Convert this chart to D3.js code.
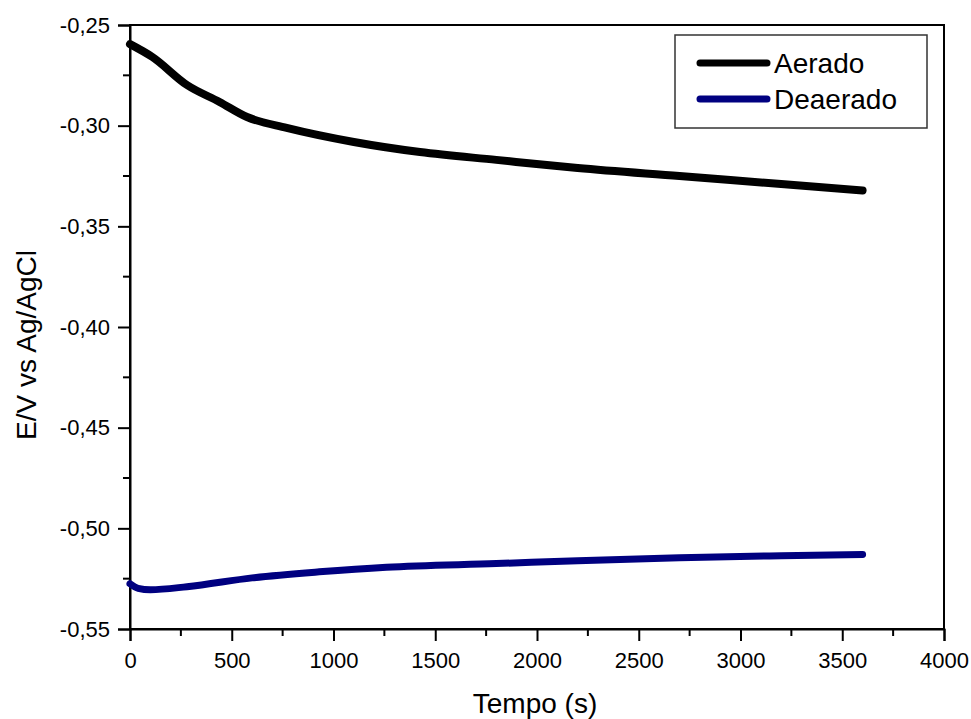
<!DOCTYPE html>
<html>
<head>
<meta charset="utf-8">
<script src="https://cdn.jsdelivr.net/npm/d3@7"></script>
<style>
  body { margin: 0; background: #fff; }
  text { font-family: Arial, "Liberation Sans", sans-serif; }
</style>
</head>
<body>
<script>
// data (time in s, potential in V)
const seriesNames = ["Aerado", "Deaerado"];
const seriesColors = ["#000000", "#000080"];

const aeradoT = [0, 110, 280, 440, 575, 770, 1100, 1425, 1800, 2200, 2700, 3200, 3600];
const aeradoE = [-0.2595, -0.2659, -0.2798, -0.2882, -0.2957, -0.3011, -0.3081, -0.3131, -0.3170, -0.3210, -0.3250, -0.3290, -0.3322];

const deaeradoT = [0, 40, 100, 280, 600, 930, 1260, 1800, 2200, 2700, 3200, 3600];
const deaeradoE = [-0.5275, -0.5298, -0.5305, -0.5290, -0.5246, -0.5216, -0.5193, -0.5175, -0.5161, -0.5146, -0.5136, -0.5130];

const xTicks = [0, 500, 1000, 1500, 2000, 2500, 3000, 3500, 4000];
const yTicks = [-0.25, -0.30, -0.35, -0.40, -0.45, -0.50, -0.55];

const W = 971, H = 719;
const margin = { left: 130, right: 27, top: 25, bottom: 90 };

const svg = d3.select("body").append("svg")
    .attr("width", W)
    .attr("height", H);

const x = d3.scaleLinear().domain([0, 4000]).range([margin.left, W - margin.right]);
const y = d3.scaleLinear().domain([-0.55, -0.25]).range([H - margin.bottom, margin.top]);

const fmt = d => d.toFixed(2).replace(".", ",");

// minor ticks
const xMinor = d3.range(250, 4000, 500);
const yMinor = d3.range(-0.525, -0.25, 0.05);

svg.selectAll(".xminor").data(xMinor).enter().append("line")
    .attr("x1", d => x(d)).attr("x2", d => x(d))
    .attr("y1", y(-0.55)).attr("y2", y(-0.55) + 7)
    .attr("stroke", "#000").attr("stroke-width", 2);

svg.selectAll(".yminor").data(yMinor).enter().append("line")
    .attr("x1", x(0) - 7).attr("x2", x(0))
    .attr("y1", d => y(d)).attr("y2", d => y(d))
    .attr("stroke", "#000").attr("stroke-width", 2);

// frame
svg.append("rect")
    .attr("x", x(0)).attr("y", y(-0.25))
    .attr("width", x(4000) - x(0)).attr("height", y(-0.55) - y(-0.25))
    .attr("fill", "none").attr("stroke", "#000").attr("stroke-width", 2);

const xAxis = svg.append("g")
    .attr("transform", `translate(0,${y(-0.55)})`)
    .call(d3.axisBottom(x).tickValues(xTicks).tickSize(12).tickPadding(11).tickFormat(d3.format("d")));

const yAxis = svg.append("g")
    .attr("transform", `translate(${x(0)},0)`)
    .call(d3.axisLeft(y).tickValues(yTicks).tickSize(12).tickPadding(8).tickFormat(fmt));

[xAxis, yAxis].forEach(a => {
    a.select(".domain").attr("stroke-width", 2);
    a.selectAll(".tick line").attr("stroke-width", 2);
    a.selectAll("text").attr("font-size", 22).attr("fill", "#000")
        .style("font-family", "Arial, 'Liberation Sans', sans-serif");
});

// axis titles
svg.append("text")
    .attr("x", 535)
    .attr("y", 713)
    .attr("text-anchor", "middle")
    .attr("font-size", 28)
    .text("Tempo (s)");

svg.append("text")
    .attr("transform", `translate(36,345) rotate(-90)`)
    .attr("text-anchor", "middle")
    .attr("font-size", 28)
    .text("E/V vs Ag/AgCl");

// curves
const line = d3.line()
    .x(d => x(d[0]))
    .y(d => y(d[1]))
    .curve(d3.curveMonotoneX);

const data = [
    d3.zip(aeradoT, aeradoE),
    d3.zip(deaeradoT, deaeradoE)
];

svg.selectAll(".curve").data(data).enter().append("path")
    .attr("class", "curve")
    .attr("d", line)
    .attr("fill", "none")
    .attr("stroke", (d, i) => seriesColors[i])
    .attr("stroke-width", (d, i) => i == 0 ? 8 : 7)
    .attr("stroke-linecap", "round")
    .attr("stroke-linejoin", "round");

// legend
const legend = svg.append("g");
legend.append("rect")
    .attr("x", 675).attr("y", 35)
    .attr("width", 252).attr("height", 93)
    .attr("fill", "#fff").attr("stroke", "#333").attr("stroke-width", 1.5);

seriesNames.forEach((name, i) => {
    const ly = 63 + i * 36;
    legend.append("line")
        .attr("x1", 700).attr("x2", 767)
        .attr("y1", ly).attr("y2", ly)
        .attr("stroke", seriesColors[i])
        .attr("stroke-width", 7)
        .attr("stroke-linecap", "round");
    legend.append("text")
        .attr("x", 774).attr("y", ly + 10)
        .attr("font-size", 28)
        .text(name);
});
</script>
</body>
</html>
